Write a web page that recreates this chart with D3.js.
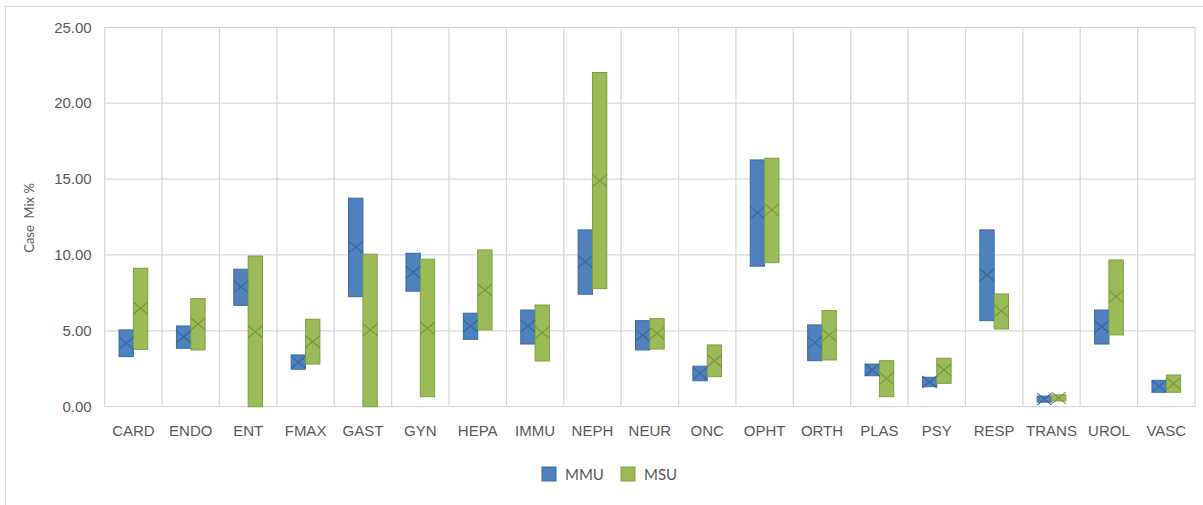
<!DOCTYPE html>
<html>
<head>
<meta charset="utf-8">
<script src="https://cdn.jsdelivr.net/npm/d3@7"></script>
<style>
  html, body { margin: 0; padding: 0; background: #fff; }
  svg { display: block; font-family: Lato, "Open Sans", sans-serif; }
</style>
</head>
<body>
<svg id="chart" width="1203" height="505"></svg>
<script>
const categories = ["CARD","ENDO","ENT","FMAX","GAST","GYN","HEPA","IMMU","NEPH","NEUR","ONC","OPHT","ORTH","PLAS","PSY","RESP","TRANS","UROL","VASC"];
const seriesNames = ["MMU","MSU"];
const mmuMin  = [3.30,3.85,6.68,2.47,7.25,7.61,4.44,4.13,7.41,3.74,1.71,9.26,3.03,2.04,1.32,5.67,0.30,4.13,0.95];
const mmuMax  = [5.06,5.32,9.06,3.41,13.74,10.11,6.16,6.37,11.65,5.67,2.67,16.26,5.39,2.81,1.94,11.65,0.70,6.37,1.74];
const mmuMean = [4.18,4.61,7.91,2.93,10.51,8.86,5.32,5.32,9.56,4.72,2.20,12.79,4.22,2.42,1.63,8.68,0.50,5.27,1.34];
const msuMin  = [3.78,3.74,0.00,2.81,0.00,0.66,5.06,3.01,7.78,3.80,1.98,9.49,3.08,0.66,1.54,5.12,0.38,4.73,0.95];
const msuMax  = [9.12,7.12,9.93,5.76,10.05,9.72,10.33,6.70,22.02,5.80,4.07,16.37,6.33,3.03,3.19,7.43,0.78,9.67,2.09];
const msuMean = [6.49,5.45,4.94,4.28,5.06,5.17,7.69,4.88,14.90,4.84,3.03,12.97,4.72,1.87,2.42,6.31,0.58,7.25,1.52];
const yTicks = [0,5,10,15,20,25];
const yTitle = "Case  Mix %";

const fills = {MMU: "#4f81bd", MSU: "#9bbb59"};
const strokes = {MMU: "#3a6aa6", MSU: "#7f9f40"};
const markerStrokes = {MMU: "#35659e", MSU: "#76953a"};

const svg = d3.select("#chart");
const plotL = 104.7, plotR = 1195, plotT = 27.3, plotB = 406.7;

// chart area border
svg.append("rect").attr("x",5.5).attr("y",6.5).attr("width",1210).attr("height",510)
  .attr("fill","#fff").attr("stroke","#d9d9d9").attr("stroke-width",1);

const x = d3.scaleBand().domain(categories).range([plotL,plotR]).padding(0);
const xs = d3.scaleBand().domain(seriesNames).range([0,x.bandwidth()]).paddingInner(0).paddingOuter(1);
const y = d3.scaleLinear().domain([0,25]).range([plotB,plotT]);

// horizontal grid
svg.append("g").selectAll("line").data(yTicks).join("line")
  .attr("x1",plotL).attr("x2",plotR).attr("y1",d=>y(d)).attr("y2",d=>y(d))
  .attr("stroke","#d9d9d9").attr("stroke-width",1.3);
// vertical grid (category boundaries)
const bounds = categories.map(c=>x(c)).concat([plotR]);
svg.append("g").selectAll("line").data(bounds).join("line")
  .attr("x1",d=>d).attr("x2",d=>d).attr("y1",plotT).attr("y2",plotB)
  .attr("stroke","#d9d9d9").attr("stroke-width",1.3);

// y axis labels
const yAxis = d3.axisLeft(y).tickValues(yTicks).tickFormat(d3.format(".2f")).tickSize(0).tickPadding(0);
const gy = svg.append("g").attr("transform",`translate(${plotL-13},0)`).call(yAxis);
gy.select(".domain").remove();
gy.selectAll("text").attr("fill","#595959").attr("font-size","15px");

// x axis labels
const xAxis = d3.axisBottom(x).tickSize(0).tickPadding(0);
const gx = svg.append("g").attr("transform",`translate(0,${plotB+19})`).call(xAxis);
gx.select(".domain").remove();
gx.selectAll("text").attr("fill","#595959").attr("font-size","15px");

// y title
svg.append("text").attr("transform","translate(34,218) rotate(-90)")
  .attr("text-anchor","middle").attr("fill","#595959").attr("font-size","13px")
  .style("white-space","pre").text(yTitle);

// data rows
const rows = [];
categories.forEach((c,i)=>{
  rows.push({cat:c, s:"MMU", lo:mmuMin[i], hi:mmuMax[i], mean:mmuMean[i]});
  rows.push({cat:c, s:"MSU", lo:msuMin[i], hi:msuMax[i], mean:msuMean[i]});
});

const bars = svg.append("g");
bars.selectAll("rect").data(rows).join("rect")
  .attr("x",d=>x(d.cat)+xs(d.s))
  .attr("width",xs.bandwidth())
  .attr("y",d=>y(d.hi))
  .attr("height",d=>y(d.lo)-y(d.hi))
  .attr("fill",d=>fills[d.s])
  .attr("stroke",d=>strokes[d.s])
  .attr("stroke-width",1);

// mean X markers
const mk = svg.append("g");
rows.forEach(d=>{
  const cx = x(d.cat)+xs(d.s)+xs.bandwidth()/2;
  const cy = y(d.mean);
  const hw = xs.bandwidth()/2, hh = 6;
  mk.append("path")
    .attr("d",`M${cx-hw},${cy-hh}L${cx+hw},${cy+hh}M${cx-hw},${cy+hh}L${cx+hw},${cy-hh}`)
    .attr("stroke",markerStrokes[d.s]).attr("stroke-width",1.1).attr("fill","none");
});

// legend
const lg = svg.append("g");
const legendX = {MMU: 542, MSU: 621};
seriesNames.forEach(s=>{
  lg.append("rect").attr("x",legendX[s]).attr("y",467).attr("width",14).attr("height",14)
    .attr("fill",fills[s]).attr("stroke",strokes[s]).attr("stroke-width",1);
  lg.append("text").attr("x",legendX[s]+23).attr("y",479.5).attr("fill","#595959")
    .attr("font-size","15px").text(s);
});
</script>
</body>
</html>
